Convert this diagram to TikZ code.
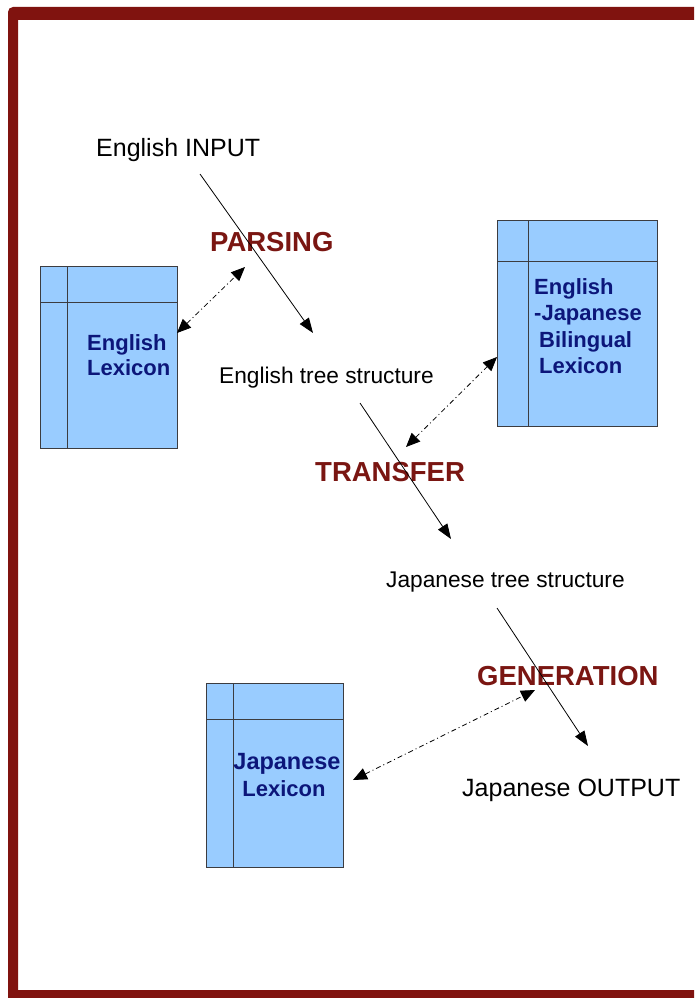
\documentclass[tikz,border=0pt]{standalone}
\usepackage{fontspec}
\setmainfont{Liberation Sans}
\usetikzlibrary{arrows.meta}

\definecolor{framered}{RGB}{128,19,15}
\definecolor{stagered}{RGB}{122,22,18}
\definecolor{lexfill}{RGB}{153,204,255}
\definecolor{lexedge}{RGB}{60,60,64}
\definecolor{lexnavy}{RGB}{12,22,122}

\tikzset{
  iotext/.style={font=\fontsize{25}{30}\selectfont, inner sep=0pt, anchor=base west},
  treetext/.style={font=\fontsize{22.7}{27}\selectfont, inner sep=0pt, anchor=base west},
  stagetext/.style={font=\fontsize{27.5}{32}\selectfont\bfseries, text=stagered, inner sep=0pt, anchor=base west},
  lextext/.style={font=\fontsize{22}{26}\selectfont\bfseries, text=lexnavy, inner sep=0pt, anchor=base west},
  lexbox/.style={draw=lexedge, fill=lexfill, line width=0.9pt, rectangle, inner sep=0pt, anchor=north west},
  lexline/.style={draw=lexedge, line width=0.9pt},
  flow/.style={draw=black, line width=0.8pt, -{Triangle[length=15pt,width=11pt]}},
  lookup/.style={draw=black, line width=0.8pt, dash pattern=on 5pt off 3pt on 1pt off 3pt,
                 {Triangle[length=14pt,width=12pt]}-{Triangle[length=14pt,width=12pt]}}
}

\begin{document}
\begin{tikzpicture}[x=1pt,y=-1pt]
  \useasboundingbox (0,0) rectangle (694,998);
  \fill[white] (0,0) rectangle (694,998);

  % page frame
  \begin{scope}
    \clip (0,0) rectangle (694,998);
    \fill[framered, even odd rule]
      [rounded corners=5pt] (8,7) rectangle (720,1012)
      [sharp corners] (18,20) rectangle (702,990);
  \end{scope}

  % lexicon boxes
  \node[lexbox, minimum width=137pt, minimum height=182pt] (englex) at (40,266) {};
  \draw[lexline] ([xshift=27pt]englex.north west) -- ([xshift=27pt]englex.south west);
  \draw[lexline] ([yshift=-36pt]englex.north west) -- ([yshift=-36pt]englex.north east);

  \node[lexbox, minimum width=160pt, minimum height=206pt] (bilex) at (497,220) {};
  \draw[lexline] ([xshift=31pt]bilex.north west) -- ([xshift=31pt]bilex.south west);
  \draw[lexline] ([yshift=-41pt]bilex.north west) -- ([yshift=-41pt]bilex.north east);

  \node[lexbox, minimum width=137pt, minimum height=184pt] (jplex) at (206,683) {};
  \draw[lexline] ([xshift=27pt]jplex.north west) -- ([xshift=27pt]jplex.south west);
  \draw[lexline] ([yshift=-36pt]jplex.north west) -- ([yshift=-36pt]jplex.north east);

  % lexicon labels
  \node[lextext] (englexA) at (87,350) {English};
  \node[lextext] (englexB) at (87,375) {Lexicon};

  \node[lextext] (bilexA) at (534,294) {English};
  \node[lextext] (bilexB) at (534,320) {-Japanese};
  \node[lextext] (bilexC) at (539,347) {Bilingual};
  \node[lextext] (bilexD) at (539,373) {Lexicon};

  \node[lextext, anchor=base, font=\fontsize{23.5}{27}\selectfont\bfseries] (jplexA) at (287,769) {Japanese};
  \node[lextext, anchor=base] (jplexB) at (284,796) {Lexicon};

  % pipeline stages
  \node[iotext] (input) at (96,156) {English INPUT};
  \node[treetext] (etree) at (219,383) {English tree structure};
  \node[treetext] (jtree) at (386,587) {Japanese tree structure};
  \node[iotext] (output) at (462,796) {Japanese OUTPUT};

  \node[stagetext] (parsing) at (210,251) {PARSING};
  \node[stagetext] (transfer) at (315,481) {TRANSFER};
  \node[stagetext] (generation) at (477,685) {GENERATION};

  % connector end points
  \coordinate (f1a) at (200,174);
  \coordinate (f1b) at (313,333);
  \coordinate (f2a) at (360,403);
  \coordinate (f2b) at (451,539);
  \coordinate (f3a) at (497,608);
  \coordinate (f3b) at (588,746);

  \coordinate (l1a) at (177,333);
  \coordinate (l1b) at (245,267);
  \coordinate (l2a) at (406,447);
  \coordinate (l2b) at (497,357);
  \coordinate (l3a) at (353,780);
  \coordinate (l3b) at (535,690);

  % processing flow
  \draw[flow] (f1a) -- (f1b);
  \draw[flow] (f2a) -- (f2b);
  \draw[flow] (f3a) -- (f3b);

  % lexicon look-ups
  \draw[lookup] (l1a) -- (l1b);
  \draw[lookup] (l2a) -- (l2b);
  \draw[lookup] (l3a) -- (l3b);
\end{tikzpicture}
\end{document}
